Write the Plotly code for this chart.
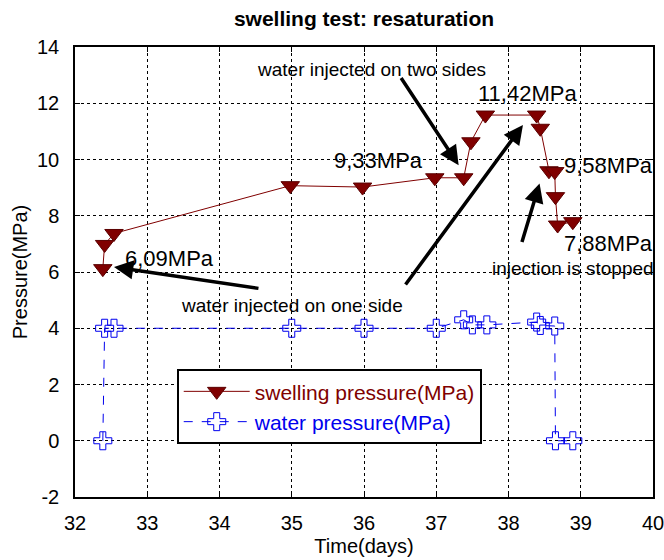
import plotly.graph_objects as go

# ---- data ----
swell_t = [32.385, 32.41, 32.54, 34.98, 35.98, 36.98, 37.38, 37.48, 37.68, 38.39, 38.44, 38.56, 38.64, 38.65, 38.68, 38.89]
swell_p = [6.12, 6.98, 7.37, 9.07, 9.02, 9.35, 9.35, 10.63, 11.58, 11.58, 11.11, 9.60, 9.57, 8.68, 7.67, 7.79]

water_t = [32.385, 32.41, 32.54, 35.0, 36.0, 37.0, 37.38, 37.5, 37.7, 38.39, 38.44, 38.64, 38.65, 38.89]
water_p = [0.0, 4.0, 4.0, 4.0, 4.0, 4.0, 4.3, 4.12, 4.12, 4.22, 4.1, 4.08, 0.0, 0.0]

x_ticks = [32, 33, 34, 35, 36, 37, 38, 39, 40]
y_ticks = [-2, 0, 2, 4, 6, 8, 10, 12, 14]

value_labels = ["6,09MPa", "9,33MPa", "11,42MPa", "9,58MPa", "7,88MPa"]
value_label_x = [33.31, 36.2, 38.26, 39.38, 39.38]
value_label_y = [6.49, 9.98, 12.36, 9.80, 7.02]

notes = ["water injected on two sides", "water injected on one side", "injection is stopped"]
notes_x = [36.10, 35.0, 38.89]
notes_y = [13.2, 4.82, 6.13]

# arrows: (head_x, head_y, tail_x, tail_y)
arrows = [
    (37.31, 9.80, 36.50, 12.95),
    (32.54, 6.18, 34.56, 5.41),
    (38.20, 11.23, 36.56, 5.50),
    (38.43, 9.15, 38.18, 7.01),
]

RED = "#800000"
BLUE = "#0000ee"
FONT = "Arial, Liberation Sans, sans-serif"

fig = go.Figure()
fig.add_trace(go.Scatter(
    x=swell_t, y=swell_p, mode="lines+markers",
    name="<span style='color:%s'>swelling pressure(MPa)</span>" % RED,
    line=dict(color=RED, width=1),
    marker=dict(symbol="triangle-down", size=16, color=RED, line=dict(color="#5a0000", width=1)),
))
fig.add_trace(go.Scatter(
    x=water_t, y=water_p, mode="lines+markers",
    name="<span style='color:%s'>water pressure(MPa)</span>" % BLUE,
    line=dict(color=BLUE, width=1, dash="dash"),
    marker=dict(symbol="cross-open", size=15, color=BLUE, line=dict(color=BLUE, width=1)),
))

annotations = []
for t, x, y in zip(value_labels, value_label_x, value_label_y):
    annotations.append(dict(x=x, y=y, xref="x", yref="y", text=t, showarrow=False,
                            font=dict(size=22, color="black", family=FONT)))
for t, x, y in zip(notes, notes_x, notes_y):
    annotations.append(dict(x=x, y=y, xref="x", yref="y", text=t, showarrow=False,
                            font=dict(size=19, color="black", family=FONT)))
for hx, hy, tx, ty in arrows:
    annotations.append(dict(x=hx, y=hy, ax=tx, ay=ty, xref="x", yref="y", axref="x", ayref="y",
                            text="", showarrow=True, arrowhead=2, arrowsize=1.1, arrowwidth=3.5,
                            arrowcolor="black"))

fig.update_layout(
    width=664, height=560,
    margin=dict(l=75, r=11, t=47, b=63, autoexpand=False),
    paper_bgcolor="white", plot_bgcolor="white",
    font=dict(family=FONT, size=20, color="black"),
    title=dict(text="<b>swelling test: resaturation</b>", x=0.5, xref="paper", xanchor="center",
               y=1 - 19 / 560, yref="container", yanchor="middle",
               font=dict(size=21, family=FONT, color="black")),
    showlegend=True,
    legend=dict(x=0.176, y=0.284, xanchor="left", yanchor="top",
                bgcolor="white", bordercolor="black", borderwidth=2,
                font=dict(size=21, family=FONT), itemwidth=66, tracegroupgap=0),
    annotations=annotations,
)
fig.update_xaxes(range=[32, 40], tickvals=x_ticks, ticktext=[str(v) for v in x_ticks],
                 showgrid=True, gridcolor="black", griddash="dot", gridwidth=1,
                 showline=True, linecolor="black", linewidth=1.5, mirror="allticks",
                 ticks="inside", ticklen=5, tickcolor="black", zeroline=False,
                 ticklabelstandoff=7, automargin=False, ticklabeloverflow="allow",
                 title=dict(text="Time(days)", font=dict(size=20), standoff=6),
                 tickfont=dict(size=20))
fig.update_yaxes(range=[-2, 14], tickvals=y_ticks, ticktext=[str(v) for v in y_ticks],
                 showgrid=True, gridcolor="black", griddash="dot", gridwidth=1,
                 showline=True, linecolor="black", linewidth=1.5, mirror="allticks",
                 ticks="inside", ticklen=5, tickcolor="black", zeroline=False,
                 ticklabelstandoff=10, automargin=False, ticklabeloverflow="allow",
                 title=dict(text="Pressure(MPa)", font=dict(size=20), standoff=4),
                 tickfont=dict(size=20))

fig.write_html("out.html", config={"displayModeBar": False},
               post_script="document.body.style.margin='0px';")
